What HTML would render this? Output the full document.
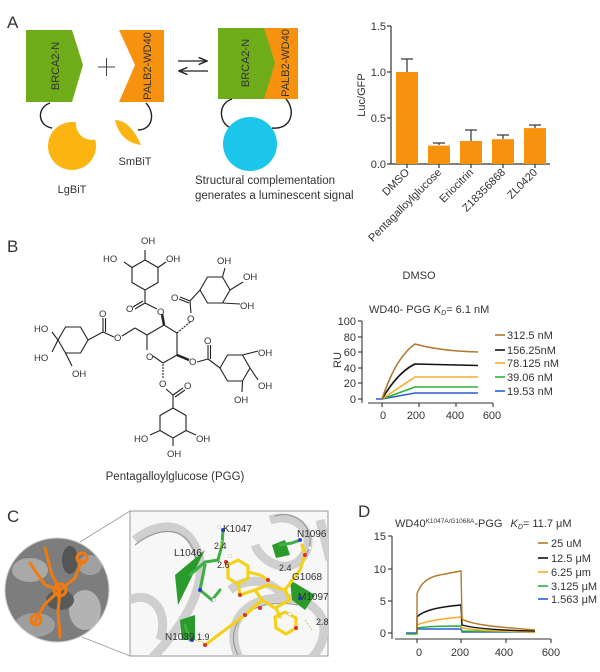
<!DOCTYPE html>
<html><head><meta charset="utf-8"><style>
html,body{margin:0;padding:0;background:#fff}
svg{display:block}
text{font-family:"Liberation Sans",sans-serif;fill:#333}
</style></head><body>
<svg width="600" height="672" viewBox="0 0 600 672" xmlns="http://www.w3.org/2000/svg">
<defs>
<marker id="ah" markerWidth="8" markerHeight="8" refX="7" refY="4" orient="auto"><path d="M0,1 L7,4 L0,7" fill="none" stroke="#222" stroke-width="1.2"/></marker>
<mask id="lgm"><rect x="0" y="0" width="600" height="300" fill="#fff"/><circle cx="92" cy="124" r="16" fill="#000"/></mask>
<clipPath id="boxc"><rect x="130" y="511" width="198" height="145"/></clipPath>
<clipPath id="circc"><circle cx="57" cy="590" r="52"/></clipPath>
</defs>

<!-- ===== Panel A ===== -->
<text x="7" y="28" font-size="17">A</text>
<polygon points="26,30 72,30 83,65 72,102 26,102" fill="#6fac1a"/>
<text transform="translate(59,66) rotate(-90)" font-size="11" text-anchor="middle">BRCA2-N</text>
<line x1="98" y1="67" x2="115" y2="67" stroke="#444" stroke-width="1"/>
<line x1="106.5" y1="58" x2="106.5" y2="76" stroke="#444" stroke-width="1"/>
<polygon points="119,30 164,30 164,102 119,102 135,65" fill="#f7920f"/>
<text transform="translate(151,66) rotate(-90)" font-size="11" text-anchor="middle">PALB2-WD40</text>
<path d="M50,103 C36,108 38,126 52,128" fill="none" stroke="#222" stroke-width="1.4"/>
<circle cx="72" cy="146" r="24" fill="#fbb410" mask="url(#lgm)"/>
<path d="M146,103 C156,114 152,130 138,130" fill="none" stroke="#222" stroke-width="1.4"/>
<path d="M115,120 Q130,120 141,145 Q120,142 115,120 Z" fill="#fbb410"/>
<text x="135" y="165" font-size="11" text-anchor="middle">SmBiT</text>
<text x="72" y="193" font-size="11" text-anchor="middle">LgBiT</text>
<line x1="178" y1="61" x2="207" y2="61" stroke="#222" stroke-width="1.2" marker-end="url(#ah)"/>
<line x1="208" y1="71" x2="179" y2="71" stroke="#222" stroke-width="1.2" marker-end="url(#ah)"/>
<rect x="218" y="28" width="80" height="71" fill="#f7920f"/>
<polygon points="218,28 264,28 275,63 264,99 218,99" fill="#6fac1a"/>
<text transform="translate(249,63) rotate(-90)" font-size="11" text-anchor="middle">BRCA2-N</text>
<text transform="translate(289,63) rotate(-90)" font-size="11" text-anchor="middle">PALB2-WD40</text>
<path d="M232,99 C216,104 220,126 232,128" fill="none" stroke="#222" stroke-width="1.4"/>
<path d="M286,99 C296,110 292,130 272,128" fill="none" stroke="#222" stroke-width="1.4"/>
<circle cx="250" cy="144" r="27" fill="#1cc6ea"/>
<text x="195" y="184" font-size="11.5">Structural complementation</text>
<text x="195" y="199" font-size="11.5">generates a luminescent signal</text>

<!-- Bar chart -->
<g stroke="#333" stroke-width="1.2" fill="none">
<line x1="391" y1="26" x2="391" y2="164"/><line x1="391" y1="164" x2="550" y2="164"/>
<line x1="387" y1="26" x2="391" y2="26"/><line x1="387" y1="72" x2="391" y2="72"/><line x1="387" y1="118" x2="391" y2="118"/><line x1="387" y1="164" x2="391" y2="164"/>
<line x1="407" y1="164" x2="407" y2="168"/><line x1="439" y1="164" x2="439" y2="168"/><line x1="471" y1="164" x2="471" y2="168"/><line x1="503" y1="164" x2="503" y2="168"/><line x1="535" y1="164" x2="535" y2="168"/>
</g>
<g font-size="11" text-anchor="end"><text x="386" y="30">1.5</text><text x="386" y="76">1.0</text><text x="386" y="122">0.5</text><text x="386" y="168">0.0</text></g>
<text transform="translate(365,95) rotate(-90)" font-size="11" text-anchor="middle">Luc/GFP</text>
<g fill="#f7920f">
<rect x="396" y="72" width="22" height="92"/><rect x="428" y="145.6" width="22" height="18.4"/><rect x="460" y="141" width="22" height="23"/><rect x="492" y="139.2" width="22" height="24.8"/><rect x="524" y="128.1" width="22" height="35.9"/>
</g>
<g stroke="#333" stroke-width="1.2">
<line x1="407" y1="72" x2="407" y2="59"/><line x1="401" y1="59" x2="413" y2="59"/>
<line x1="439" y1="145" x2="439" y2="143"/><line x1="433" y1="143" x2="445" y2="143"/>
<line x1="471" y1="141" x2="471" y2="130"/><line x1="465" y1="130" x2="477" y2="130"/>
<line x1="503" y1="139" x2="503" y2="135"/><line x1="497" y1="135" x2="509" y2="135"/>
<line x1="535" y1="128" x2="535" y2="125"/><line x1="529" y1="125" x2="541" y2="125"/>
</g>
<g font-size="11" text-anchor="end">
<text transform="translate(410,173) rotate(-45)">DMSO</text>
<text transform="translate(442,173) rotate(-45)">Pentagalloylglucose</text>
<text transform="translate(474,173) rotate(-45)">Eriocitrin</text>
<text transform="translate(506,173) rotate(-45)">Z18356868</text>
<text transform="translate(538,173) rotate(-45)">ZL0420</text>
</g>
<text x="419" y="279" font-size="11" text-anchor="middle">DMSO</text>

<!-- ===== Panel B ===== -->
<text x="7" y="252" font-size="17">B</text>
<g stroke="#222" stroke-width="1.1" fill="none">
<polygon points="145,260 158,267.5 158,282.5 145,290 132,282.5 132,267.5"/>
<polygon points="200,290 207.5,277 222.5,277 230,290 222.5,303 207.5,303"/>
<polygon points="58,340 65.5,327 80.5,327 88,340 80.5,353 65.5,353"/>
<polygon points="220,368 227.5,355 242.5,355 250,368 242.5,381 227.5,381"/>
<polygon points="173,408 186,415.5 186,430.5 173,438 160,430.5 160,415.5"/>
<!-- sugar -->
<polyline points="147,335 164,325 177,333 177,355 163,363 153,356"/>
<line x1="147" y1="335" x2="147" y2="350"/>
<!-- top ester -->
<line x1="145" y1="290" x2="145" y2="303"/><line x1="145" y1="303" x2="135" y2="309"/><line x1="143" y1="301" x2="133" y2="307"/><line x1="145" y1="303" x2="157" y2="309"/>
<line x1="162" y1="314" x2="164" y2="325" stroke-width="2.5"/>
<!-- upper right ester -->
<line x1="200" y1="290" x2="190" y2="301"/><line x1="190" y1="301" x2="180" y2="297"/><line x1="189" y1="303" x2="179" y2="299"/><line x1="190" y1="301" x2="191" y2="313"/>
<line x1="190" y1="322" x2="177" y2="333" stroke-dasharray="2,1"/>
<!-- left ester -->
<line x1="88" y1="340" x2="103" y2="332"/><line x1="103" y1="332" x2="103" y2="318"/><line x1="105.5" y1="332" x2="105.5" y2="318"/><line x1="103" y1="332" x2="114" y2="337"/>
<line x1="122" y1="336" x2="135" y2="328"/><line x1="135" y1="328" x2="147" y2="335"/>
<!-- right ester -->
<line x1="220" y1="368" x2="208" y2="359"/><line x1="208" y1="359" x2="208" y2="345"/><line x1="210.5" y1="359" x2="210.5" y2="345"/><line x1="208" y1="359" x2="197" y2="362"/>
<line x1="189" y1="360" x2="177" y2="355" stroke-width="2.5"/>
<!-- bottom ester -->
<line x1="173" y1="408" x2="173" y2="395"/><line x1="173" y1="395" x2="183" y2="388"/><line x1="175" y1="397" x2="185" y2="390"/><line x1="173" y1="395" x2="166" y2="389"/>
<line x1="163" y1="378" x2="163" y2="363" stroke-dasharray="2,1"/>
<!-- OH bonds -->
<line x1="145" y1="260" x2="145" y2="250"/><line x1="132" y1="267.5" x2="124" y2="262"/><line x1="158" y1="267.5" x2="166" y2="262"/>
<line x1="222.5" y1="277" x2="225" y2="268"/><line x1="230" y1="290" x2="243" y2="282"/><line x1="222.5" y1="303" x2="240" y2="304"/>
<line x1="58" y1="340" x2="52" y2="332"/><line x1="58" y1="340" x2="52" y2="352"/><line x1="65.5" y1="353" x2="72" y2="366"/>
<line x1="242.5" y1="355" x2="258" y2="351"/><line x1="250" y1="368" x2="258" y2="380"/><line x1="242.5" y1="381" x2="242" y2="392"/>
<line x1="160" y1="430.5" x2="150" y2="435"/><line x1="186" y1="430.5" x2="196" y2="435"/><line x1="173" y1="438" x2="173" y2="446"/>
</g>
<g font-size="9.5" font-family="Liberation Sans">
<text x="141" y="244">OH</text><text x="103" y="262">HO</text><text x="166" y="262">OH</text>
<text x="217" y="264">OH</text><text x="243" y="280">OH</text><text x="240" y="309">OH</text>
<text x="171" y="301">O</text><text x="187" y="322">O</text>
<text x="126" y="312">O</text><text x="157" y="315">O</text>
<text x="34" y="332">HO</text><text x="34" y="361">HO</text><text x="72" y="377">OH</text>
<text x="99" y="317">O</text><text x="114" y="341">O</text>
<text x="146" y="360">O</text>
<text x="258" y="356">OH</text><text x="258" y="389">OH</text><text x="234" y="403">OH</text>
<text x="204" y="344">O</text><text x="189" y="365">O</text>
<text x="159" y="387">O</text><text x="184" y="389">O</text>
<text x="134" y="442">HO</text><text x="196" y="442">OH</text><text x="167" y="457">OH</text>
</g>
<text x="175" y="480" font-size="11.5" text-anchor="middle">Pentagalloylglucose (PGG)</text>

<!-- SPR 1 -->
<text x="369" y="313" font-size="11">WD40- PGG <tspan font-style="italic">K</tspan><tspan font-size="7" font-style="italic" dy="2">D</tspan><tspan dy="-2">= 6.1 nM</tspan></text>
<g stroke="#333" stroke-width="1.1">
<line x1="362" y1="321" x2="362" y2="403"/><line x1="368" y1="403" x2="493" y2="403"/>
<line x1="358" y1="321" x2="362" y2="321"/><line x1="358" y1="337" x2="362" y2="337"/><line x1="358" y1="352" x2="362" y2="352"/><line x1="358" y1="368" x2="362" y2="368"/><line x1="358" y1="383" x2="362" y2="383"/><line x1="358" y1="399" x2="362" y2="399"/>
<line x1="382" y1="403" x2="382" y2="407"/><line x1="419" y1="403" x2="419" y2="407"/><line x1="456" y1="403" x2="456" y2="407"/><line x1="493" y1="403" x2="493" y2="407"/>
</g>
<g font-size="11" text-anchor="end"><text x="356" y="325">100</text><text x="356" y="341">80</text><text x="356" y="356">60</text><text x="356" y="372">40</text><text x="356" y="387">20</text><text x="356" y="403">0</text></g>
<g font-size="11" text-anchor="middle"><text x="383" y="419">0</text><text x="416" y="419">200</text><text x="455" y="419">400</text><text x="492" y="419">600</text></g>
<text transform="translate(341,360) rotate(-90)" font-size="11" text-anchor="middle">RU</text>
<g fill="none" stroke-width="1.6">
<path d="M376,399 L382,399 L415,393 L478,393" stroke="#2a5bd7"/>
<path d="M382,399 L415,387 L478,387" stroke="#2bb03a"/>
<path d="M382,399 L415,377 L478,377" stroke="#fbab2c"/>
<path d="M382,399 Q398,372 415,364 L478,365.5" stroke="#111"/>
<path d="M382,399 Q396,357 415,344 Q440,351 478,352" stroke="#b07a2a"/>
</g>
<g stroke-width="1.6"><line x1="495" y1="335" x2="505" y2="335" stroke="#b07a2a"/><line x1="495" y1="350" x2="505" y2="350" stroke="#111"/><line x1="495" y1="363" x2="505" y2="363" stroke="#fbab2c"/><line x1="495" y1="377" x2="505" y2="377" stroke="#2bb03a"/><line x1="495" y1="391" x2="505" y2="391" stroke="#2a5bd7"/></g>
<g font-size="11"><text x="507" y="339">312.5 nM</text><text x="507" y="354">156.25nM</text><text x="507" y="367">78.125 nM</text><text x="507" y="381">39.06 nM</text><text x="507" y="395">19.53 nM</text></g>

<!-- ===== Panel C ===== -->
<text x="7" y="522" font-size="17">C</text>
<line x1="80" y1="542" x2="130" y2="511" stroke="#999" stroke-width="0.8"/>
<line x1="82" y1="637" x2="130" y2="656" stroke="#999" stroke-width="0.8"/>
<g clip-path="url(#circc)">
<rect x="0" y="535" width="115" height="110" fill="#7d7d7d"/>
<ellipse cx="30" cy="570" rx="18" ry="12" fill="#a9a9a9"/>
<ellipse cx="85" cy="610" rx="16" ry="20" fill="#b3b3b3"/>
<ellipse cx="35" cy="625" rx="20" ry="12" fill="#9e9e9e"/>
<ellipse cx="90" cy="565" rx="12" ry="10" fill="#a0a0a0"/>
<ellipse cx="60" cy="600" rx="14" ry="10" fill="#5a5a5a"/>
<ellipse cx="70" cy="560" rx="8" ry="14" fill="#555"/>
<g stroke="#f07a10" stroke-width="3" fill="none" stroke-linecap="round">
<path d="M45,548 L52,575 L60,590"/><path d="M30,563 L45,585 L60,590"/><path d="M60,590 L75,578 L82,560"/>
<path d="M60,590 L58,612 L60,637"/><path d="M60,590 L44,605 L35,622"/><circle cx="60" cy="590" r="6"/>
<circle cx="82" cy="558" r="5"/><circle cx="36" cy="620" r="5"/>
</g>
</g>
<circle cx="57" cy="590" r="52" fill="none" stroke="#ccc" stroke-width="1"/>

<rect x="130" y="511" width="198" height="145" fill="#f7f7f7" stroke="#999" stroke-width="1"/>
<g clip-path="url(#boxc)">
<g fill="none" stroke="#cfcfcf" stroke-width="9">
<path d="M135,540 C160,520 190,520 200,560 C205,600 170,640 150,660"/>
<path d="M240,660 C220,620 250,590 300,600 C330,610 330,640 310,660"/>
<path d="M270,520 C300,510 320,540 300,560 C285,575 260,560 255,545"/>
<path d="M130,600 C150,590 170,610 160,640"/>
<path d="M230,590 C250,575 275,580 285,600"/>
<path d="M320,520 L330,560"/>
</g>
<g fill="none" stroke="#9a9a9a" stroke-width="1.2">
<path d="M135,545 C160,525 190,525 196,560"/><path d="M275,516 C300,508 320,535 305,556"/>
<path d="M238,655 C222,625 250,596 298,605"/>
</g>
<polygon points="175,575 205,550 200,560 178,605" fill="#2a9a2a"/>
<polygon points="272,545 285,540 290,555 276,558" fill="#2a9a2a"/>
<polygon points="290,580 315,595 305,610 292,600" fill="#2a9a2a"/>
<polygon points="180,620 195,615 195,640 182,640" fill="#2a9a2a"/>
<g stroke="#3cb043" stroke-width="3" fill="none" stroke-linecap="round">
<path d="M190,575 L205,562 L218,560 L222,545 L223,530"/><path d="M205,565 L200,590 L212,600 L220,590"/>
<path d="M280,545 L292,543 L300,540"/><path d="M185,625 L190,640"/>
</g>
<g stroke="#f4d11a" stroke-width="3.2" fill="none" stroke-linecap="round" stroke-linejoin="round">
<polygon points="228,565 238,560 248,566 248,578 238,584 228,578"/>
<path d="M248,572 L260,575 L268,580"/>
<path d="M255,590 L268,585 L285,590 L290,600 L275,608 L262,600 Z"/>
<path d="M262,600 L245,615 L225,630 L205,645"/>
<path d="M285,590 L300,570 L305,555 L302,545"/>
<polygon points="275,617 285,612 296,618 296,628 286,634 276,628"/>
<path d="M276,608 L280,617"/><path d="M238,584 L240,595 L255,590"/>
</g>
<g fill="#d9302c"><circle cx="226" cy="562" r="2"/><circle cx="240" cy="595" r="2"/><circle cx="268" cy="580" r="2"/><circle cx="205" cy="645" r="2"/><circle cx="296" cy="628" r="2"/><circle cx="305" cy="555" r="2"/><circle cx="245" cy="615" r="2"/><circle cx="260" cy="608" r="2"/></g>
<g fill="#2a3cd0"><circle cx="223" cy="530" r="2"/><circle cx="200" cy="590" r="2"/><circle cx="300" cy="540" r="2"/><circle cx="192" cy="640" r="2"/><circle cx="300" cy="598" r="2"/></g>
<g fill="#fff" stroke="#bbb" stroke-width="0.5"><circle cx="219" cy="527" r="1.8"/><circle cx="214" cy="600" r="1.8"/><circle cx="230" cy="556" r="1.8"/><circle cx="290" cy="614" r="1.8"/><circle cx="310" cy="548" r="1.8"/></g>
<g stroke="#e8c81a" stroke-width="1" stroke-dasharray="2,1.5"><line x1="222" y1="540" x2="220" y2="548"/><line x1="195" y1="640" x2="205" y2="643"/><line x1="305" y1="620" x2="312" y2="630"/></g>
</g>
<g font-size="10">
<text x="223" y="532">K1047</text><text x="297" y="537">N1096</text><text x="174" y="556">L1046</text>
<text x="214" y="549" font-size="9">2.4</text><text x="217" y="568" font-size="9">2.6</text>
<text x="279" y="571" font-size="9">2.4</text><text x="292" y="580">G1068</text>
<text x="298" y="600">M1097</text><text x="316" y="625" font-size="9">2.8</text>
<text x="165" y="640">N1039</text><text x="197" y="640" font-size="9">1.9</text>
</g>

<!-- ===== Panel D ===== -->
<text x="358" y="517" font-size="17">D</text>
<text x="395" y="527" font-size="11">WD40<tspan font-size="6.5" dy="-4">K1047A/G1068A</tspan><tspan dy="4">-PGG</tspan><tspan dx="8" font-style="italic">K</tspan><tspan font-size="7" font-style="italic" dy="2">D</tspan><tspan dy="-2">= 11.7 μM</tspan></text>
<g stroke="#333" stroke-width="1.1">
<line x1="392" y1="536" x2="392" y2="639"/><line x1="395" y1="639" x2="551" y2="639"/>
<line x1="388" y1="536" x2="392" y2="536"/><line x1="388" y1="569" x2="392" y2="569"/><line x1="388" y1="601" x2="392" y2="601"/><line x1="388" y1="633" x2="392" y2="633"/>
<line x1="417" y1="639" x2="417" y2="643"/><line x1="461" y1="639" x2="461" y2="643"/><line x1="506" y1="639" x2="506" y2="643"/><line x1="551" y1="639" x2="551" y2="643"/>
</g>
<g font-size="11" text-anchor="end"><text x="386" y="540">15</text><text x="386" y="573">10</text><text x="386" y="605">5</text><text x="386" y="637">0</text></g>
<g font-size="11" text-anchor="middle"><text x="419" y="656">0</text><text x="460" y="656">200</text><text x="504" y="656">400</text><text x="551" y="656">600</text></g>
<g fill="none" stroke-width="1.4">
<path d="M406,633 L417,633 L417,629 L461,629 L462,632 L535,632" stroke="#2a5bd7"/>
<path d="M406,634 L417,634 L417,628 Q430,626 461,626 L462,631 L535,632" stroke="#2bb03a"/>
<path d="M417,633 L417,625 Q428,620 461,617 L462,628 Q480,631 535,632" stroke="#fbab2c"/>
<path d="M417,633 L417,617 Q425,608 461,605 L462,625 Q480,630 535,631" stroke="#111"/>
<path d="M417,633 L417,594 Q422,578 440,575 Q455,572 461,571 L462,619 Q470,624 500,627 L535,630" stroke="#b07a2a"/>
</g>
<g stroke-width="1.6"><line x1="538" y1="543" x2="548" y2="543" stroke="#b07a2a"/><line x1="538" y1="558" x2="548" y2="558" stroke="#111"/><line x1="538" y1="572" x2="548" y2="572" stroke="#fbab2c"/><line x1="538" y1="586" x2="548" y2="586" stroke="#2bb03a"/><line x1="538" y1="599" x2="548" y2="599" stroke="#2a5bd7"/></g>
<g font-size="11"><text x="551" y="547">25 uM</text><text x="551" y="562">12.5 μM</text><text x="551" y="576">6.25 μm</text><text x="551" y="590">3.125 μM</text><text x="551" y="603">1.563 μM</text></g>
</svg>
</body></html>
